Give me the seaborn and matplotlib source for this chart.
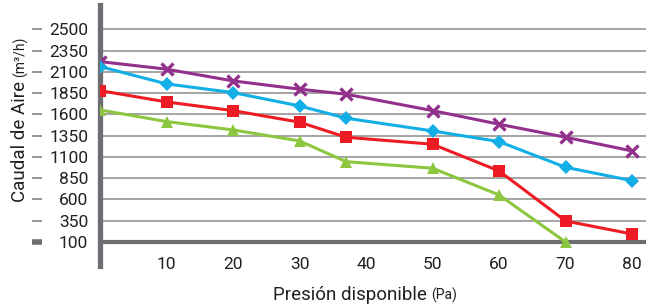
import numpy as np
import pandas as pd
import seaborn as sns
import matplotlib.pyplot as plt

sns.set_style("white")
plt.rcParams['font.family'] = ['Roboto', 'DejaVu Sans']

# presion disponible (Pa)
presion = [0, 10, 20, 30, 37, 50, 60, 70, 80]
# caudal de aire (m3/h)
serie_morada = [2220, 2131, 1993, 1896, 1837, 1644, 1484, 1331, 1170]
serie_azul = [2162, 1958, 1856, 1699, 1555, 1405, 1280, 978, 821]
serie_roja = [1879, 1746, 1644, 1508, 1331, 1249, 935, 347, 194]
presion_verde = [0, 10, 20, 30, 37, 50, 60, 70]
serie_verde = [1652, 1515, 1417, 1288, 1044, 967, 653, 100]

x_ticks = [10, 20, 30, 40, 50, 60, 70, 80]
y_ticks = [100, 350, 600, 850, 1100, 1350, 1600, 1850, 2100, 2350, 2600]
y_tick_labels = ['100', '350', '600', '850', '1100', '1350', '1600', '1850',
                 '2100', '2350', '2500']

gris = '#6d6e71'
texto = '#231f20'

fig = plt.figure(figsize=(6.46, 3.07), dpi=100)
ax = fig.add_axes([100 / 646, 1 - 266 / 307, 546 / 646, 261 / 307])

series = [
    (presion, serie_morada, '#92308c', 'x'),
    (presion, serie_azul, '#12aee6', 'D'),
    (presion, serie_roja, '#ed1c24', 's'),
    (presion_verde, serie_verde, '#8dc63f', '^'),
]
for xs, ys, color, marker in series:
    df = pd.DataFrame({'x': xs, 'y': ys})
    if marker == 'x':
        kw = dict(markersize=9, markeredgewidth=2.4)
    else:
        kw = dict(markersize=7.5 if marker == 'D' else 8.5, markeredgewidth=0)
    sns.lineplot(data=df, x='x', y='y', ax=ax, color=color, lw=2.2,
                 marker=marker, markeredgecolor=color, estimator=None,
                 sort=False, zorder=4, **kw)

ax.set_xlim(0, 82.1)
ax.set_ylim(-182, 2885)
ax.set_xticks(x_ticks)
ax.set_xticklabels([str(v) for v in x_ticks])
ax.set_yticks(y_ticks)
ax.set_yticklabels(y_tick_labels)
ax.tick_params(axis='x', length=0, pad=-6.5, labelsize=12.5, colors=texto)
ax.tick_params(axis='y', length=0, pad=8.5, labelsize=12.5, colors=texto)
ax.set_xlabel('')
ax.set_ylabel('')

ax.yaxis.grid(True, color='#8c8c8c', lw=1.1)
ax.set_axisbelow(True)
ax.axhline(100, color=gris, lw=3, zorder=3)

for s in ['top', 'right', 'bottom']:
    ax.spines[s].set_visible(False)
ax.spines['left'].set_color(gris)
ax.spines['left'].set_linewidth(3.8)
ax.spines['left'].set_zorder(3)

# small dashes at the far left of the tick labels
tr = ax.get_yaxis_transform()
ax.hlines(y_ticks[1:], (32 - 100) / 546, (42 - 100) / 546, transform=tr,
          color='#8c8c8c', lw=1.3, clip_on=False)
ax.hlines([y_ticks[0]], (32 - 100) / 546, (42 - 100) / 546, transform=tr,
          color=gris, lw=4, clip_on=False)

# axis titles: main part plus a smaller unit right after it
xl = fig.text(272.7 / 646, 1 - 300 / 307, 'Presión disponible', fontsize=13.5,
              color=texto, ha='left', va='baseline')
yl = fig.text(25 / 646, 1 - 201.7 / 307, 'Caudal de Aire', fontsize=13.5,
              color=texto, rotation=90, rotation_mode='anchor',
              ha='left', va='baseline')
fig.canvas.draw()
r = fig.canvas.get_renderer()
bx = xl.get_window_extent(r)
by = yl.get_window_extent(r)
fig.text((bx.x1 + 5) / 646, 1 - 300 / 307, '(Pa)', fontsize=10,
         color=texto, ha='left', va='baseline')
fig.text(25 / 646, (by.y1 + 4) / 307, '(m³/h)', fontsize=10,
         color=texto, rotation=90, rotation_mode='anchor',
         ha='left', va='baseline')

fig.savefig('out.png', dpi=100)
